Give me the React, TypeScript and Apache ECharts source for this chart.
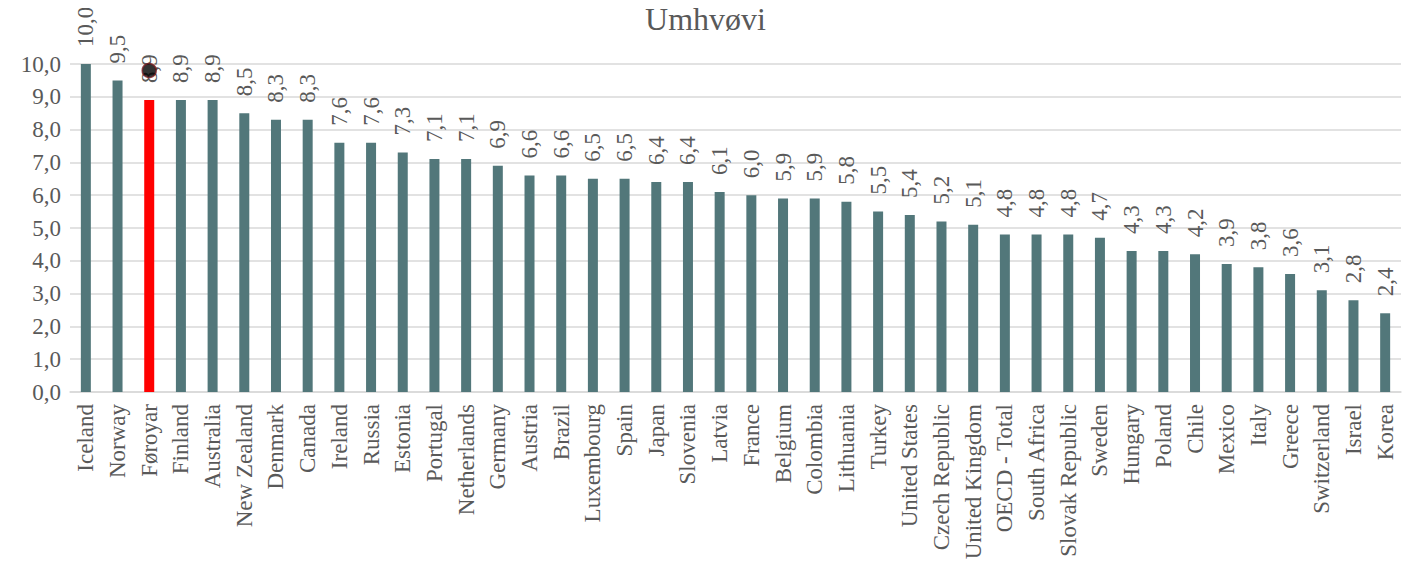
import React, { useEffect, useRef } from "react";
import * as echarts from "echarts";

const categories = [
  "Iceland", "Norway", "Føroyar", "Finland", "Australia", "New Zealand", "Denmark", "Canada",
  "Ireland", "Russia", "Estonia", "Portugal", "Netherlands", "Germany", "Austria", "Brazil",
  "Luxembourg", "Spain", "Japan", "Slovenia", "Latvia", "France", "Belgium", "Colombia",
  "Lithuania", "Turkey", "United States", "Czech Republic", "United Kingdom", "OECD - Total",
  "South Africa", "Slovak Republic", "Sweden", "Hungary", "Poland", "Chile", "Mexico", "Italy",
  "Greece", "Switzerland", "Israel", "Korea",
];

const values = [
  10.0, 9.5, 8.9, 8.9, 8.9, 8.5, 8.3, 8.3,
  7.6, 7.6, 7.3, 7.1, 7.1, 6.9, 6.6, 6.6,
  6.5, 6.5, 6.4, 6.4, 6.1, 6.0, 5.9, 5.9,
  5.8, 5.5, 5.4, 5.2, 5.1, 4.8,
  4.8, 4.8, 4.7, 4.3, 4.3, 4.2, 3.9, 3.8,
  3.6, 3.1, 2.8, 2.4,
];

const highlightCategory = "Føroyar";
const markerValue = 9.8;
const yTicks = { min: 0, max: 10, interval: 1 };
const title = "Umhvøvi";

const FONT = "Liberation Serif";
const TEXT = "#595959";
const BAR = "#52777a";

const fmt = (v: number) => v.toFixed(1).replace(".", ",");

export default function App() {
  const ref = useRef<HTMLDivElement>(null);
  useEffect(() => {
    if (!ref.current) return;
    const chart = echarts.init(ref.current, undefined, { renderer: "svg" });
    chart.setOption({
      animation: false,
      textStyle: { fontFamily: FONT },
      graphic: [
        {
          type: "text",
          left: "center",
          top: 3,
          style: { text: title, fontFamily: FONT, fontSize: 32, fill: TEXT },
        },
      ],
      grid: { left: 70, right: 10, top: 64, bottom: 177, containLabel: false },
      xAxis: {
        type: "category",
        data: categories,
        axisLine: { lineStyle: { color: "#d9d9d9", width: 1.5 } },
        axisTick: { show: false },
        axisLabel: {
          rotate: 90,
          interval: 0,
          margin: 12,
          fontFamily: FONT,
          fontSize: 23,
          color: TEXT,
        },
      },
      yAxis: {
        type: "value",
        min: yTicks.min,
        max: yTicks.max,
        interval: yTicks.interval,
        axisLine: { show: false },
        axisTick: { show: false },
        splitLine: { lineStyle: { color: "#d9d9d9", width: 1.5 } },
        axisLabel: {
          margin: 9,
          fontFamily: FONT,
          fontSize: 23,
          color: TEXT,
          formatter: (v: number) => fmt(v),
        },
      },
      series: [
        {
          type: "bar",
          barWidth: 10,
          data: values.map((v, i) => ({
            value: v,
            itemStyle: { color: categories[i] === highlightCategory ? "#ff0000" : BAR },
          })),
        },
        {
          type: "custom",
          z: 5,
          data: values.map((v, i) => [i, v]),
          renderItem: (params: any, api: any) => {
            const v = api.value(1);
            const p = api.coord([api.value(0), v]);
            return {
              type: "text",
              x: p[0],
              y: p[1] - 17,
              rotation: Math.PI / 2,
              style: {
                text: fmt(v),
                fontFamily: FONT,
                fontSize: 23,
                fill: TEXT,
                align: "left",
                verticalAlign: "middle",
              },
            };
          },
        },
        {
          type: "scatter",
          z: 10,
          symbol: "circle",
          symbolSize: 14,
          data: [[highlightCategory, markerValue]],
          itemStyle: { color: "#000000", borderColor: "#7a1f24", borderWidth: 1.5 },
        },
      ],
    });
    return () => chart.dispose();
  }, []);
  return <div ref={ref} style={{ width: 1411, height: 569, margin: -8 }} />;
}
